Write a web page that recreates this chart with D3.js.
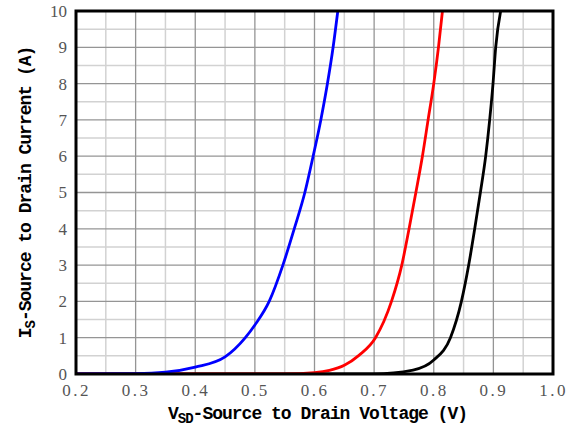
<!DOCTYPE html>
<html><head><meta charset="utf-8">
<script src="https://cdn.jsdelivr.net/npm/d3@7"></script>
<style>body{margin:0;background:#fff}svg{display:block}</style>
</head><body>
<script>
const xTicks = [0.2,0.3,0.4,0.5,0.6,0.7,0.8,0.9,1.0];
const yTicks = [0,1,2,3,4,5,6,7,8,9,10];
const blueV = [0.20,0.30,0.35,0.40,0.45,0.484,0.50,0.524,0.547,0.566,0.5838,0.5977,0.6106,0.6217,0.6312,0.6391];
const blueI = [0,0.01,0.05,0.19,0.47,1.0,1.35,2.0,3.0,4.0,5.0,6.0,7.0,8.0,9.0,10];
const redV = [0.20,0.55,0.60,0.625,0.65,0.675,0.7023,0.7291,0.7464,0.7586,0.770,0.781,0.7905,0.800,0.8079,0.8146];
const redI = [0,0.005,0.04,0.10,0.24,0.52,1.0,2.0,3.0,4.0,5.0,6.0,7.0,8.0,9.0,10];
const blackV = [0.20,0.70,0.7653,0.800,0.828,0.8464,0.8586,0.8687,0.8782,0.8871,0.8938,0.8994,0.9039,0.9122];
const blackI = [0,0.005,0.11,0.385,1.0,2.0,3.0,4.0,5.0,6.0,7.0,8.0,9.0,10];

const W=574,H=429, L=76,R=553,T=11,B=374;
const svg=d3.select("body").append("svg").attr("width",W).attr("height",H);
const x=d3.scaleLinear().domain([0.2,1.0]).range([L,R]);
const y=d3.scaleLinear().domain([0,10]).range([B,T]);

const g=svg.append("g");
g.selectAll(".mx").data(d3.range(0.25,1.0,0.1)).enter().append("line")
 .attr("x1",d=>x(d)).attr("x2",d=>x(d)).attr("y1",T).attr("y2",B)
 .attr("stroke","#d2d2d2").attr("stroke-width",1.5);
g.selectAll(".my").data(d3.range(0.5,10,1)).enter().append("line")
 .attr("y1",d=>y(d)).attr("y2",d=>y(d)).attr("x1",L).attr("x2",R)
 .attr("stroke","#d2d2d2").attr("stroke-width",1.5);
g.selectAll(".Mx").data(xTicks.slice(1,-1)).enter().append("line")
 .attr("x1",d=>x(d)).attr("x2",d=>x(d)).attr("y1",T).attr("y2",B)
 .attr("stroke","#959595").attr("stroke-width",1.3);
g.selectAll(".My").data(yTicks.slice(1,-1)).enter().append("line")
 .attr("y1",d=>y(d)).attr("y2",d=>y(d)).attr("x1",L).attr("x2",R)
 .attr("stroke","#959595").attr("stroke-width",1.3);

svg.append("clipPath").attr("id","c").append("rect").attr("x",L).attr("y",T-1).attr("width",R-L).attr("height",B-T+1);
const line=d3.line().x(d=>x(d[0])).y(d=>y(d[1])).curve(d3.curveMonotoneX);
const series=[[blackV,blackI,"#000"],[redV,redI,"#ff0000"],[blueV,blueI,"#0000ff"]];
series.forEach(([vx,vy,c])=>{
  svg.append("path").datum(vx.map((v,i)=>[v,vy[i]])).attr("d",line)
   .attr("fill","none").attr("stroke",c).attr("stroke-width",2.8)
   .attr("stroke-linejoin","round").attr("clip-path","url(#c)");
});

svg.append("rect").attr("x",L).attr("y",T).attr("width",R-L).attr("height",B-T)
 .attr("fill","none").attr("stroke","#000").attr("stroke-width",3);

const sf="'Liberation Serif','DejaVu Serif',serif";
const xa=d3.axisBottom(x).tickValues(xTicks).tickSize(0).tickPadding(10).tickFormat(d3.format(".1f"));
const xg=svg.append("g").attr("transform",`translate(0,${B})`).call(xa);
const ya=d3.axisLeft(y).tickValues(yTicks).tickSize(0).tickPadding(9).tickFormat(d3.format("d"));
const yg=svg.append("g").attr("transform",`translate(${L},0)`).call(ya);
[xg,yg].forEach(a=>{a.select(".domain").remove();
 a.attr("font-family",null).attr("font-size",null);
 a.selectAll("text").style("font-family",sf).style("font-size","17px").attr("fill","#555");});
xg.selectAll("text").style("letter-spacing","2.5px");

const tf="'Liberation Mono','DejaVu Sans Mono',monospace";
const xt=svg.append("text").attr("x",(L+R)/2+3).attr("y",419).attr("text-anchor","middle")
 .style("font-family",tf).style("font-weight","bold").style("font-size","18px").style("letter-spacing","-1px").attr("fill","#000");
xt.append("tspan").text("V");
xt.append("tspan").text("SD").style("font-size","14px").attr("dy",4);
xt.append("tspan").text("-Source to Drain Voltage (V)").attr("dy",-4);

const yt=svg.append("text").attr("transform",`translate(31,${(T+B)/2}) rotate(-90)`).attr("text-anchor","middle")
 .style("font-family",tf).style("font-weight","bold").style("font-size","18px").style("letter-spacing","-1px").attr("fill","#000");
yt.append("tspan").text("I");
yt.append("tspan").text("S").style("font-size","14px").attr("dy",4);
yt.append("tspan").text("-Source to Drain Current (A)").attr("dy",-4);
</script>
</body></html>
